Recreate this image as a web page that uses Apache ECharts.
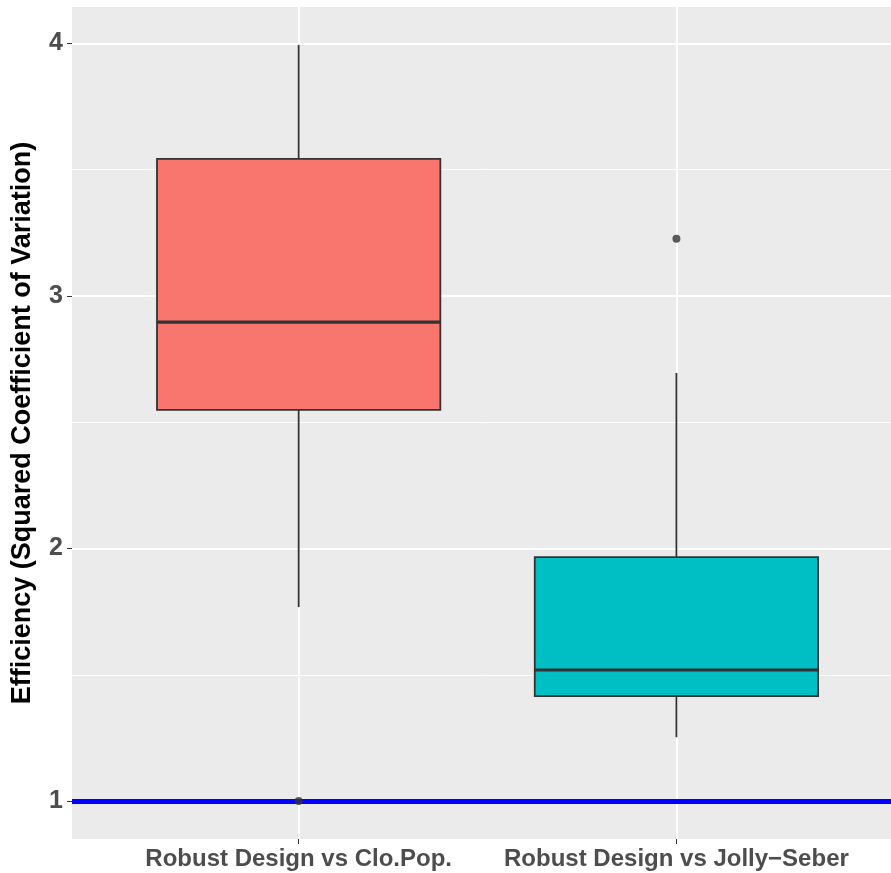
<!DOCTYPE html>
<html>
<head>
<meta charset="utf-8">
<script src="https://cdn.jsdelivr.net/npm/echarts@6/dist/echarts.min.js"></script>
<style>
  html, body { margin: 0; padding: 0; background: #fff; }
  #chart { width: 891px; height: 873px; }
</style>
</head>
<body>
<div id="chart"></div>
<script>
// du lieu boxplot doc tu hinh
const categories = ['Robust Design vs Clo.Pop.', 'Robust Design vs Jolly\u2212Seber'];
const boxColors = ['#F8766D', '#00BFC4'];
const lowerWhisker = [1.768, 1.253];
const q1 = [2.549, 1.416];
const median = [2.896, 1.519];
const q3 = [3.543, 1.966];
const upperWhisker = [3.994, 2.695];
const outliers = [[1, 1.0], [2, 3.226]];
const majorY = [1, 2, 3, 4];
const minorY = [1.5, 2.5, 3.5];
const refLine = 1;

var myChart = echarts.init(document.getElementById('chart'));

let boxData = categories.map(function (c, i) {
    return [i + 1, lowerWhisker[i], q1[i], median[i], q3[i], upperWhisker[i]];
});

let gridLines = [];
minorY.forEach(v => gridLines.push({ yAxis: v, lineStyle: { width: 1, color: '#FFFFFF', type: 'solid' } }));
majorY.forEach(v => gridLines.push({ yAxis: v, lineStyle: { width: 2, color: '#FFFFFF', type: 'solid' } }));
categories.forEach((c, i) => gridLines.push({ xAxis: i + 1, lineStyle: { width: 2, color: '#FFFFFF', type: 'solid' } }));

const labelFont = 'Liberation Sans, Arial';

let option = {
    animation: false,
    grid: {
        left: 72,
        top: 7,
        right: 0,
        height: 832,
        show: true,
        backgroundColor: '#EBEBEB',
        borderWidth: 0
    },
    xAxis: {
        type: 'value',
        min: 0.4,
        max: 2.568, // panel bi cat o ben phai
        axisLine: { show: false },
        splitLine: { show: false },
        axisTick: { show: true, customValues: [1, 2], length: 5, lineStyle: { color: '#333333', width: 1 } },
        axisLabel: {
            customValues: [1, 2],
            margin: 8,
            color: '#4D4D4D',
            fontSize: 24,
            fontWeight: 'bold',
            fontFamily: labelFont,
            formatter: function (v) { return categories[Math.round(v) - 1] || ''; }
        }
    },
    yAxis: {
        type: 'value',
        min: 0.85,
        max: 4.144,
        name: 'Efficiency (Squared Coefficient of Variation)',
        nameLocation: 'middle',
        nameGap: 36,
        nameTextStyle: {
            color: '#000000',
            fontSize: 27,
            fontWeight: 'bold',
            fontFamily: labelFont
        },
        axisLine: { show: false },
        splitLine: { show: false },
        axisTick: { show: true, customValues: majorY, length: 5, lineStyle: { color: '#333333', width: 1 } },
        axisLabel: {
            customValues: majorY,
            margin: 9,
            color: '#4D4D4D',
            fontSize: 25,
            fontWeight: 'bold',
            fontFamily: labelFont
        }
    },
    series: [
        {
            // luoi nen
            type: 'line',
            data: [],
            z: 1,
            silent: true,
            markLine: {
                z: 1,
                silent: true,
                symbol: ['none', 'none'],
                label: { show: false },
                animation: false,
                data: gridLines
            }
        },
        {
            // duong tham chieu y = 1
            type: 'line',
            data: [],
            z: 2,
            silent: true,
            markLine: {
                z: 2,
                silent: true,
                symbol: ['none', 'none'],
                label: { show: false },
                animation: false,
                data: [{ yAxis: refLine, lineStyle: { width: 5, color: '#0000FF', type: 'solid' } }]
            }
        },
        {
            type: 'custom',
            z: 3,
            data: boxData,
            renderItem: function (params, api) {
                const x = api.value(0);
                const half = 0.375;
                const i = params.dataIndex;
                const pLow = api.coord([x, api.value(1)]);
                const pQ1 = api.coord([x, api.value(2)]);
                const pMed = api.coord([x, api.value(3)]);
                const pQ3 = api.coord([x, api.value(4)]);
                const pHigh = api.coord([x, api.value(5)]);
                const left = api.coord([x - half, api.value(3)])[0];
                const right = api.coord([x + half, api.value(3)])[0];
                const stroke = { stroke: '#333333', lineWidth: 1.8 };
                return {
                    type: 'group',
                    children: [
                        { type: 'line', shape: { x1: pHigh[0], y1: pHigh[1], x2: pQ3[0], y2: pQ3[1] }, style: stroke },
                        { type: 'line', shape: { x1: pQ1[0], y1: pQ1[1], x2: pLow[0], y2: pLow[1] }, style: stroke },
                        {
                            type: 'rect',
                            shape: { x: left, y: pQ3[1], width: right - left, height: pQ1[1] - pQ3[1] },
                            style: { fill: boxColors[i], stroke: '#333333', lineWidth: 1.8 }
                        },
                        { type: 'line', shape: { x1: left, y1: pMed[1], x2: right, y2: pMed[1] }, style: { stroke: '#333333', lineWidth: 3.2 } }
                    ]
                };
            }
        },
        {
            type: 'scatter',
            z: 4,
            data: outliers,
            symbol: 'circle',
            symbolSize: 8,
            itemStyle: { color: '#333333' }
        }
    ]
};

myChart.setOption(option);
</script>
</body>
</html>
